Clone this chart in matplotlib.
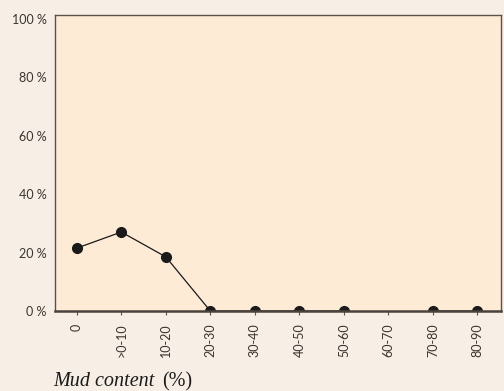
import numpy as np
import matplotlib.pyplot as plt

categories = ['0', '>0-10', '10-20', '20-30', '30-40', '40-50', '50-60', '60-70', '70-80', '80-90']
values = [21.5, 27.0, 18.5, 0, 0, 0, 0, np.nan, 0, 0]
y_ticks = [0, 20, 40, 60, 80, 100]
y_labels = ['0 %', '20 %', '40 %', '60 %', '80 %', '100 %']

fig = plt.figure(figsize=(5.04, 3.91), dpi=100, facecolor='#f7efe6')
ax = fig.add_axes([55 / 504, 1 - 311 / 391, 446 / 504, 296 / 391])
ax.set_facecolor('#fdebd6')

x = np.arange(len(categories))
ax.plot(x, values, color='#1a1a1a', linewidth=0.9, marker='o', markersize=7,
        markerfacecolor='#1a1a1a', markeredgecolor='#1a1a1a', zorder=3)

ax.set_xlim(-0.49, 9.53)
ax.set_ylim(0, 101.2)
ax.set_xticks(x)
ax.set_xticklabels(categories, rotation=90, fontsize=9, color='#3a3430', family='Lato')
ax.set_yticks(y_ticks)
ax.set_yticklabels(y_labels, fontsize=9, color='#3a3430', family='Lato')
ax.tick_params(axis='y', length=0, pad=6)
ax.tick_params(axis='x', length=3, width=0.8, color='#5a524a', pad=6)

for side in ['left', 'top', 'right']:
    ax.spines[side].set_color('#5a524a')
    ax.spines[side].set_linewidth(1.0)
ax.spines['bottom'].set_color('#4a423c')
ax.spines['bottom'].set_linewidth(1.8)
ax.spines['bottom'].set_zorder(4)

fig.text(53 / 504, 1 - 382 / 391, 'Mud content', fontsize=14.5, style='italic',
         family='Liberation Serif', color='#1a1a1a', va='center', ha='left')
fig.text(162 / 504, 1 - 382 / 391, '(%)', fontsize=14.5,
         family='Liberation Serif', color='#1a1a1a', va='center', ha='left')

fig.savefig('out.png', dpi=100, facecolor=fig.get_facecolor())
